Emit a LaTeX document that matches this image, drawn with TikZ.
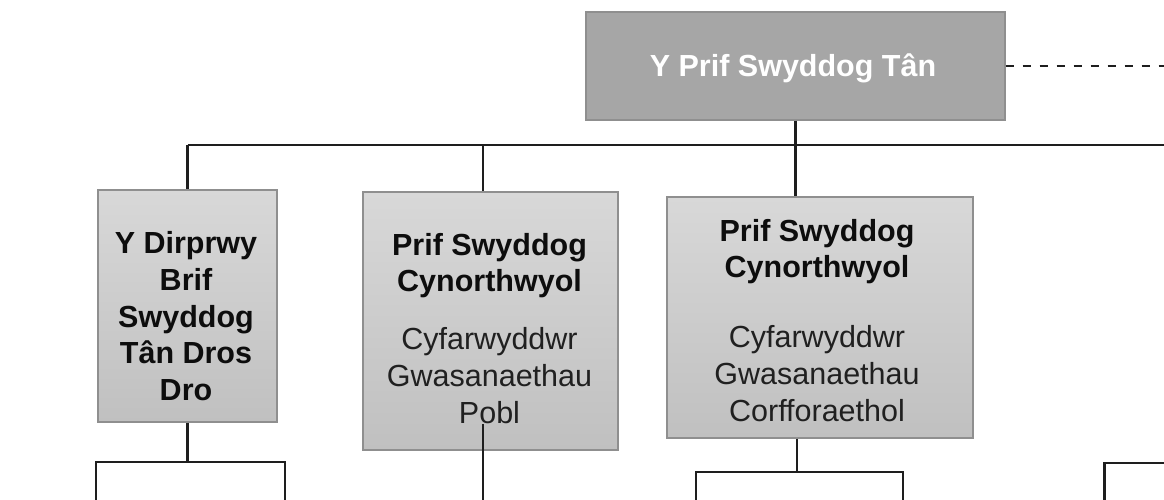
\documentclass[tikz,border=0pt]{standalone}
\usepackage{fontspec}
\setmainfont{Liberation Sans}
\definecolor{linec}{HTML}{1E1E1E}
\definecolor{boxline}{HTML}{8F8F8F}
\definecolor{topfill}{HTML}{A6A6A6}
\definecolor{gradtop}{HTML}{D8D8D8}
\definecolor{gradbot}{HTML}{C0C0C0}
\definecolor{txtreg}{HTML}{202020}
\definecolor{txtbold}{HTML}{0D0D0D}
\begin{document}
\begin{tikzpicture}[x=1pt,y=-1pt,
  conn/.style={draw=linec, line width=2.2pt},
  dashconn/.style={draw=linec, line width=1.9pt, dash pattern=on 8pt off 9pt},
  topbox/.style={draw=boxline, line width=1.3pt, fill=topfill, inner sep=0pt},
  subbox/.style={draw=boxline, line width=1.3pt, top color=gradtop, bottom color=gradbot, inner sep=0pt},
  boxtext/.style={inner sep=0pt, align=center, font=\fontsize{30.5}{36.6}\selectfont},
]
\useasboundingbox (0,0) rectangle (1164,500);

% boxes
\node[topbox, minimum width=419pt, minimum height=108pt] (top) at (795.5,66) {};
\node[subbox, minimum width=179pt, minimum height=232pt] (b1) at (187.5,306) {};
\node[subbox, minimum width=255pt, minimum height=258pt] (b2) at (490.5,321) {};
\node[subbox, minimum width=306pt, minimum height=241pt] (b3) at (820,317.5) {};

% texts
\node[boxtext, anchor=base, text=white, font=\fontsize{30.5}{36.6}\selectfont\bfseries] (t0) at (793,77) {Y Prif Swyddog Tân};
\node[boxtext, anchor=north, text=txtbold, font=\fontsize{30.5}{36.9}\selectfont\bfseries] (t1) at (186,227)
  {\rule{0pt}{26pt}Y Dirprwy\\Brif\\Swyddog\\Tân Dros\\Dro};
\node[boxtext, anchor=north, text=txtreg] (t2) at (489.5,229)
  {\rule{0pt}{26pt}\textbf{\color{txtbold}Prif Swyddog}\\\textbf{\color{txtbold}Cynorthwyol}\\[21.5pt]Cyfarwyddwr\\Gwasanaethau\\Pobl};
\node[boxtext, anchor=north, text=txtreg] (t3) at (817,215)
  {\rule{0pt}{26pt}\textbf{\color{txtbold}Prif Swyddog}\\\textbf{\color{txtbold}Cynorthwyol}\\[33.4pt]Cyfarwyddwr\\Gwasanaethau\\Corfforaethol};

% coordinates
\coordinate (busL) at (187.5,145);
\coordinate (busR) at (1164,145);
\coordinate (bus2) at (483,145);
\coordinate (dashR) at (1164,66);
\coordinate (j1) at (187.5,462);
\coordinate (s1a) at (96,500);
\coordinate (s1b) at (285,500);
\coordinate (p2) at (483,424);
\coordinate (s2) at (483,500);
\coordinate (j3) at (797,472);
\coordinate (s3a) at (696,500);
\coordinate (s3b) at (903,500);
\coordinate (s4) at (1104.5,500);
\coordinate (r4) at (1164,463);

% connectors
\draw[dashconn] (top.east) -- (dashR);
\draw[conn] (busL) -- (busR);
\draw[conn] (top.south) -- (top.south |- b3.north);
\draw[conn] (busL) -- (busL |- b1.north);
\draw[conn] (bus2) -- (bus2 |- b2.north);
\draw[conn] (b1.south) -- (j1);
\draw[conn] (s1a) |- (j1) -| (s1b);
\draw[conn] (p2) -- (s2);
\draw[conn] (j3 |- b3.south) -- (j3);
\draw[conn] (s3a) |- (j3) -| (s3b);
\draw[conn] (s4) |- (r4);
\end{tikzpicture}
\end{document}
